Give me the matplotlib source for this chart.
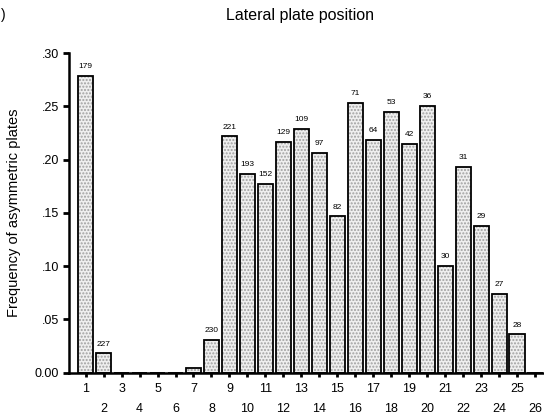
import matplotlib.pyplot as plt

plt.rcParams['font.family'] = ['Liberation Sans', 'DejaVu Sans']

positions = list(range(1, 27))
freq = [0.279, 0.018, 0.0, 0.0, 0.0, 0.0, 0.004, 0.0305, 0.222, 0.187,
        0.1775, 0.2166, 0.229, 0.2066, 0.1468, 0.2536, 0.2188, 0.2451, 0.215, 0.2508,
        0.1004, 0.1934, 0.138, 0.074, 0.0359, 0.0]
counts = ['179', '227', '', '', '', '', '', '230', '221', '193',
          '152', '129', '109', '97', '82', '71', '64', '53', '42', '36',
          '30', '31', '29', '27', '28', '']
yticks = [0.0, 0.05, 0.10, 0.15, 0.20, 0.25, 0.30]
ytick_labels = ['0.00', '.05', '.10', '.15', '.20', '.25', '.30']

fig = plt.figure(figsize=(5.44, 4.17), dpi=100)
ax = fig.add_axes([0.127, 0.1067, 0.873, 0.7655])

# dotted fill, then black outline on top
ax.bar(positions, freq, width=0.84, color='#efefef', hatch='.....',
       edgecolor='#a0a0a0', linewidth=0)
ax.bar(positions, freq, width=0.84, fill=False, edgecolor='black', linewidth=1.3)

for x, f, c in zip(positions, freq, counts):
    if c:
        ax.annotate(c, (x, f), xytext=(0, 4), textcoords='offset points',
                    ha='center', va='bottom', fontsize=6)

ax.set_xlim(0.08, 26.5)
ax.set_ylim(0, 0.30)
ax.set_yticks(yticks)
ax.set_yticklabels(ytick_labels)

odd = [p for p in positions if p % 2 == 1]
even = [p for p in positions if p % 2 == 0]
ax.set_xticks(odd)
ax.set_xticklabels([str(p) for p in odd])
ax.set_xticks(even, minor=True)
ax.set_xticklabels([str(p) for p in even], minor=True)

ax.tick_params(axis='x', which='both', length=3, width=2, labelsize=9, direction='out')
ax.tick_params(axis='x', which='major', pad=4.5)
ax.tick_params(axis='x', which='minor', pad=19)
ax.tick_params(axis='y', length=4, width=2, labelsize=9, pad=3)

for s in ['top', 'right']:
    ax.spines[s].set_visible(False)
ax.spines['left'].set_linewidth(1.8)
ax.spines['bottom'].set_linewidth(1.8)

ax.set_ylabel('Frequency of asymmetric plates', fontsize=10.5, labelpad=10)
fig.text(0.551, 0.963, 'Lateral plate position', ha='center', va='center', fontsize=11.5)
fig.text(0.001, 0.963, ')', ha='left', va='center', fontsize=10)

fig.savefig('out.png', dpi=100)
